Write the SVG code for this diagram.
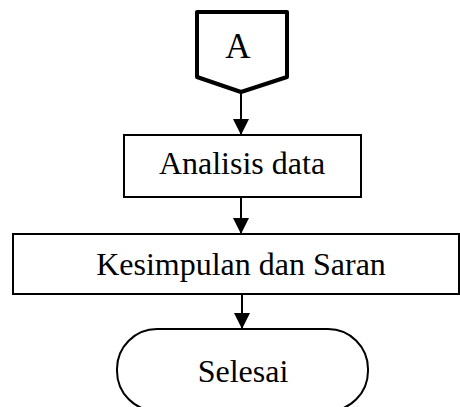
<svg xmlns="http://www.w3.org/2000/svg" width="460" height="407" viewBox="0 0 460 407">
  <style>
    .shape { fill: #fff; stroke: #000; stroke-width: 2; }
    .label { font-family: "Liberation Serif", "Times New Roman", serif; font-size: 32px; fill: #000; text-anchor: middle; }
    .conn { stroke: #000; stroke-width: 2; fill: none; }
  </style>
  <defs>
    <marker id="arrow" viewBox="0 0 16 16" refX="16" refY="8" markerWidth="16" markerHeight="16" markerUnits="userSpaceOnUse" orient="auto">
      <path d="M0,0 L16,8 L0,16 Z" fill="#000"/>
    </marker>
  </defs>

  <g id="connectors">
    <line class="conn" x1="241" y1="93" x2="241" y2="135" marker-end="url(#arrow)"/>
    <line class="conn" x1="241" y1="197" x2="241" y2="234" marker-end="url(#arrow)"/>
    <line class="conn" x1="242" y1="294" x2="242" y2="329" marker-end="url(#arrow)"/>
  </g>

  <g id="offpage-a">
    <path class="shape" style="stroke-width:4;stroke-linejoin:round" d="M197,12 L287,12 L287,77 L241,92 L197,77 Z"/>
    <text class="label" x="238" y="58" style="font-size:35px">A</text>
  </g>

  <g id="analisis-data">
    <rect class="shape" x="124" y="135" width="237" height="62"/>
    <text class="label" x="242" y="174">Analisis data</text>
  </g>

  <g id="kesimpulan">
    <rect class="shape" x="13" y="234" width="446" height="60"/>
    <text class="label" x="241" y="275">Kesimpulan dan Saran</text>
  </g>

  <g id="selesai">
    <rect class="shape" x="117" y="329" width="251" height="82" rx="40" ry="40"/>
    <text class="label" x="243" y="382">Selesai</text>
  </g>
</svg>
